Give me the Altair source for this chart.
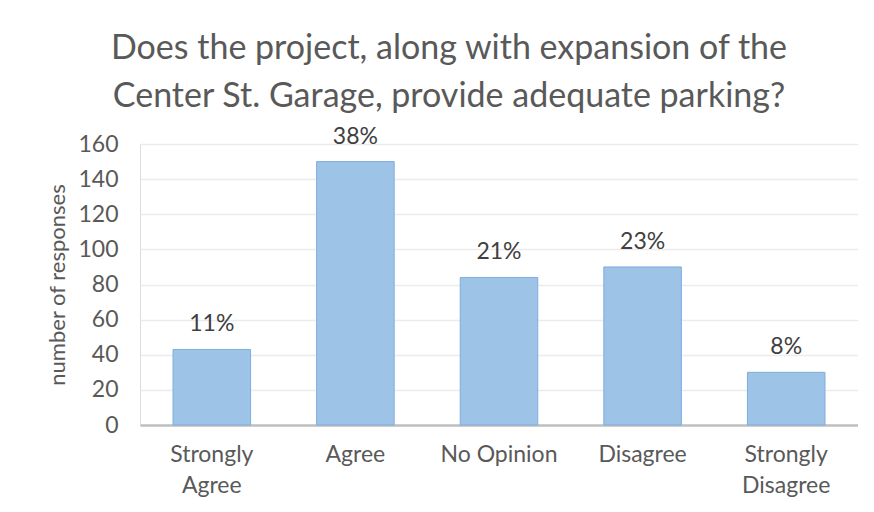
import altair as alt
import pandas as pd

categories = ["Strongly Agree", "Agree", "No Opinion", "Disagree", "Strongly Disagree"]
counts = [43, 150, 84, 90, 30]
pct_labels = ["11%", "38%", "21%", "23%", "8%"]
y_ticks = [0, 20, 40, 60, 80, 100, 120, 140, 160]
title_lines = ["Does the project, along with expansion of the", "Center St. Garage, provide adequate parking?"]

df = pd.DataFrame({"cat": categories, "count": counts, "pct": pct_labels})

label_expr = "datum.value == 'Strongly Agree' ? ['Strongly','Agree'] : datum.value == 'Strongly Disagree' ? ['Strongly','Disagree'] : datum.value"

FONT = "Lato"
GREY = "#595959"

x = alt.X("cat:N", sort=categories, title=None,
          scale=alt.Scale(paddingInner=0.46, paddingOuter=0.23),
          axis=alt.Axis(labelAngle=0, labelExpr=label_expr, labelFontSize=23, labelColor=GREY,
                        labelFont=FONT, labelPadding=18, labelLineHeight=31, ticks=False,
                        domainColor="#bfbfbf", domainWidth=2.5))
y_axis = alt.Axis(values=y_ticks, tickCount=20, labelFontSize=23, labelColor=GREY, labelFont=FONT,
                  labelOverlap=False,
                  titleFontSize=22, titleColor=GREY, titleFont=FONT, titleFontWeight="normal",
                  titlePadding=8, ticks=False, domain=False, gridColor="#ececec",
                  gridWidth=1.5, labelPadding=22)
y = alt.Y("count:Q", title="number of responses", scale=alt.Scale(domain=[0, 160]), axis=y_axis)

bars = alt.Chart(df).mark_bar(color="#9dc3e6", stroke="#7fadde", strokeWidth=1).encode(x=x, y=y)
text = alt.Chart(df).mark_text(dy=-25, fontSize=23, font=FONT, color="#404040").encode(
    x=alt.X("cat:N", sort=categories), y=y, text="pct:N")

chart = alt.layer(bars, text).properties(
    width=718, height=281,
    title=alt.TitleParams(title_lines, fontSize=34, font=FONT, color=GREY, fontWeight="normal",
                          lineHeight=48, anchor="middle", offset=12, dx=-50),
    padding={"left": 38, "top": 23, "right": 0, "bottom": 0},
).configure_view(stroke=None).configure(background="white")

chart.save("out.html", embed_options={"renderer": "svg", "actions": False})
